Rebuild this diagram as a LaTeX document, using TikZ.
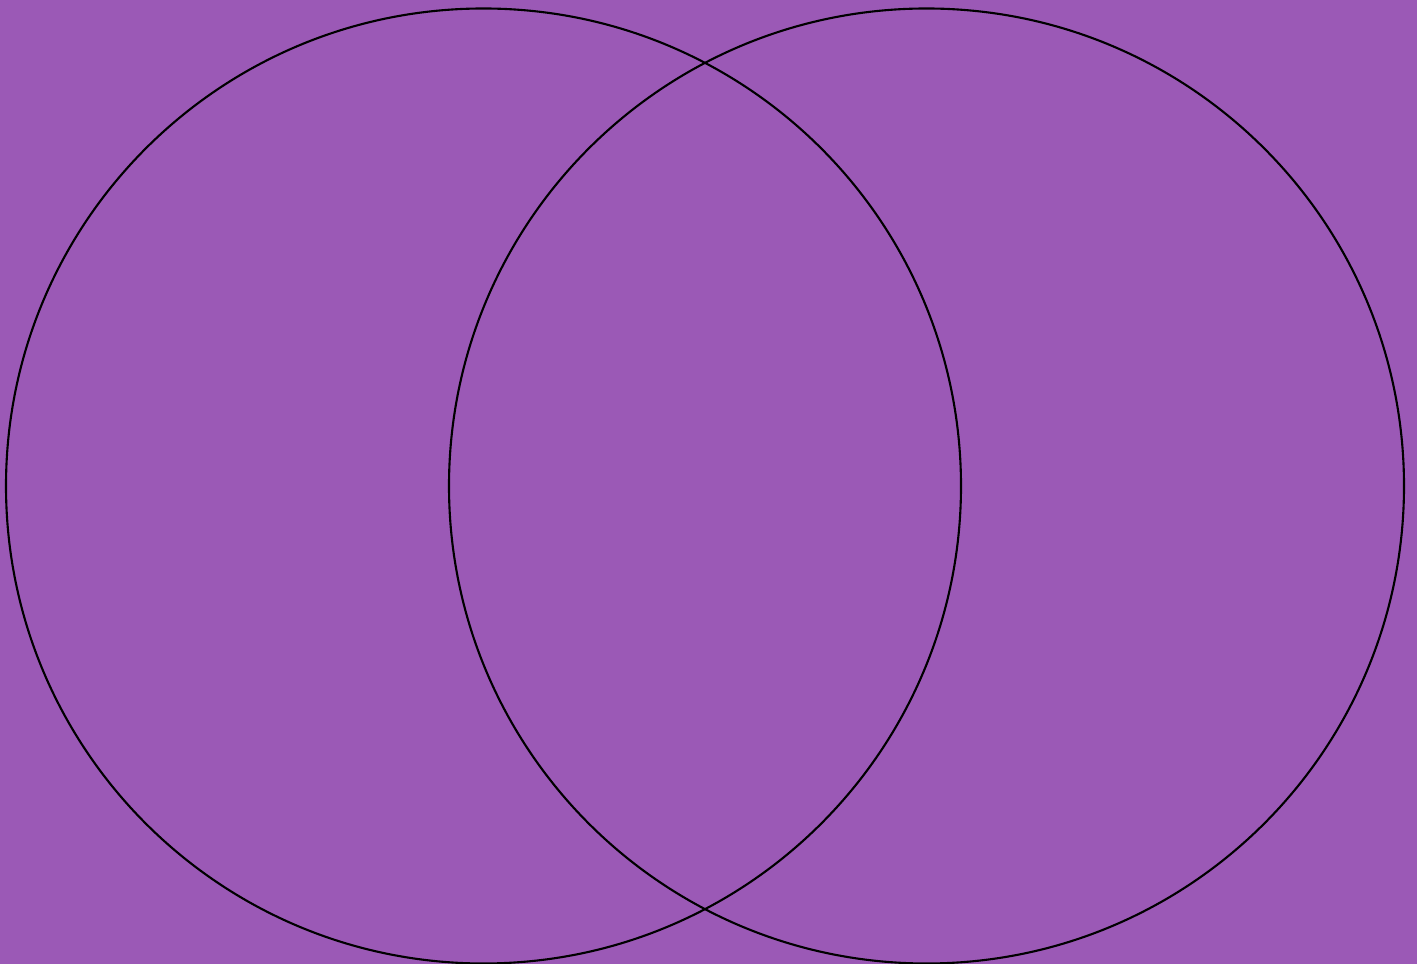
\documentclass[tikz,border=0pt]{standalone}
\usepackage{xcolor}
\usepackage{tikz}
\usetikzlibrary{positioning}
\definecolor{amethyst}{HTML}{9B59B6}
\tikzstyle{ring} = [circle, draw=black, line width=0.6pt, minimum size=9.55cm, inner sep=0pt]

\begin{document}
\begin{tikzpicture}
	% Hintergrund
	\fill[amethyst] (0,0) rectangle (14.17,9.64);
	\useasboundingbox (0,0) rectangle (14.17,9.64);
	% Kreise
	\node[ring] (left) at (4.835, 4.78) {}; % linker Kreis
	\node[ring] (right) at (9.265, 4.78) {}; % rechter Kreis
\end{tikzpicture}
\end{document}
